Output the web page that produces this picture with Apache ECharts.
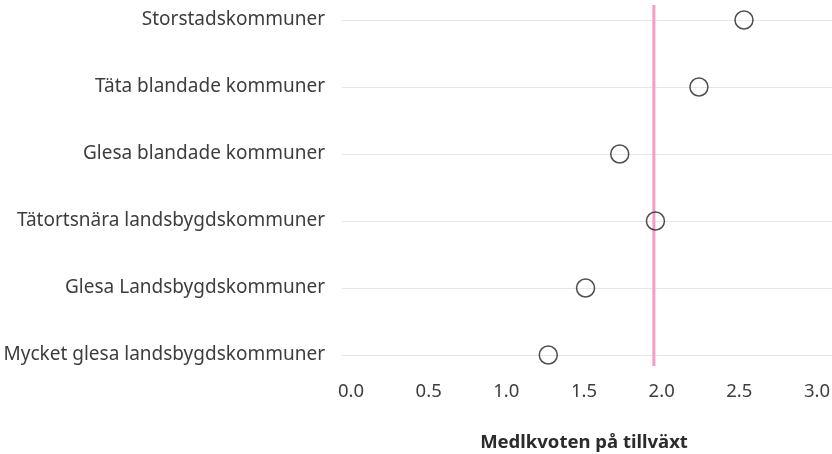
<!DOCTYPE html>
<html>
<head>
<meta charset="utf-8">
<script src="https://cdn.jsdelivr.net/npm/echarts@6/dist/echarts.min.js"></script>
<style>
  html, body { margin: 0; padding: 0; background: #fff; }
  #chart { width: 832px; height: 454px; }
</style>
</head>
<body>
<div id="chart"></div>
<script>
  // kategorier, uppifrån och ned
  const categories = [
    'Storstadskommuner',
    'Täta blandade kommuner',
    'Glesa blandade kommuner',
    'Tätortsnära landsbygdskommuner',
    'Glesa Landsbygdskommuner',
    'Mycket glesa landsbygdskommuner'
  ];
  const kvot = [2.53, 2.24, 1.73, 1.96, 1.51, 1.27];
  const riket = 1.95;
  const xTicks = [0, 0.5, 1, 1.5, 2, 2.5, 3];

  const font = '"Noto Sans", "Open Sans", sans-serif';
  const chart = echarts.init(document.getElementById('chart'));

  const hiddenX = (g) => ({
    gridIndex: g, type: 'value', show: false,
    min: xTicks[0], max: xTicks[xTicks.length - 1]
  });

  chart.setOption({
    backgroundColor: '#fff',
    animation: false,
    grid: [
      // rutnät + kategorietiketter
      { left: 342, right: 0, top: 20, height: 335, outerBoundsMode: 'none' },
      // punkter och värdeaxel
      { left: 351, right: 15, top: 20, height: 335, outerBoundsMode: 'none' },
      // referenslinjen (lite högre än raderna)
      { left: 351, right: 15, top: 5, height: 361, outerBoundsMode: 'none' }
    ],
    xAxis: [
      { gridIndex: 0, type: 'value', show: false, min: 0, max: 1 },
      {
        gridIndex: 1,
        type: 'value',
        min: xTicks[0],
        max: xTicks[xTicks.length - 1],
        interval: 0.5,
        axisLine: { show: false },
        axisTick: { show: false },
        splitLine: { show: false },
        axisLabel: {
          margin: 27,
          fontFamily: font,
          fontSize: 18.5,
          color: '#3d3d3d',
          formatter: v => v.toFixed(1)
        },
        name: 'Medlkvoten på tillväxt',
        nameLocation: 'middle',
        nameGap: 78,
        nameTextStyle: {
          fontFamily: font,
          fontSize: 18.5,
          fontWeight: 'bold',
          color: '#2b2b2b'
        }
      },
      hiddenX(2)
    ],
    yAxis: [
      {
        gridIndex: 0,
        type: 'category',
        data: categories,
        inverse: true,
        boundaryGap: false,
        axisLine: { show: false },
        axisTick: { show: false },
        splitLine: { show: true, lineStyle: { color: '#e6e6e6', width: 1 } },
        axisLabel: {
          margin: 17,
          fontFamily: font,
          fontSize: 19,
          color: '#3d3d3d',
          padding: [3, 0, 0, 0]
        }
      },
      {
        gridIndex: 1,
        type: 'category',
        data: categories,
        inverse: true,
        boundaryGap: false,
        show: false
      },
      { gridIndex: 2, type: 'value', min: 0, max: 1, show: false }
    ],
    series: [
      {
        type: 'line',
        xAxisIndex: 2,
        yAxisIndex: 2,
        data: [[riket, 0], [riket, 1]],
        symbol: 'none',
        silent: true,
        z: 2,
        lineStyle: { color: '#f59cc6', width: 3 }
      },
      {
        type: 'scatter',
        xAxisIndex: 1,
        yAxisIndex: 1,
        data: kvot.map((v, i) => [v, categories[i]]),
        symbol: 'circle',
        symbolSize: 18,
        z: 3,
        itemStyle: {
          color: 'rgba(255,255,255,0)',
          borderColor: '#222',
          borderWidth: 1.5
        }
      }
    ]
  });
</script>
</body>
</html>
